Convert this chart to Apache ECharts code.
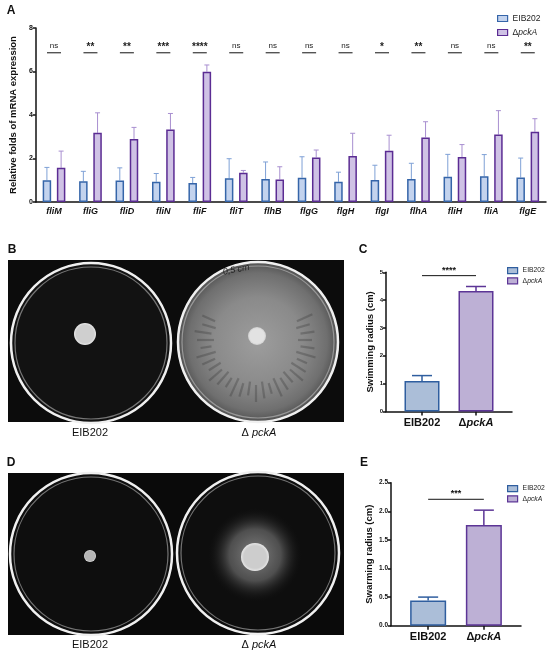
<!DOCTYPE html>
<html>
<head>
<meta charset="utf-8">
<script src="https://cdn.jsdelivr.net/npm/echarts@6/dist/echarts.min.js"></script>
<style>
  html, body { margin: 0; padding: 0; background: #fff; }
  #main { width: 550px; height: 656px; }
</style>
</head>
<body>
<div id="main"></div>
<script>
// panel A: qPCR of flagellar genes
const genes = ['fliM', 'fliG', 'fliD', 'fliN', 'fliF', 'fliT', 'flhB', 'flgG', 'flgH', 'flgI', 'flhA', 'fliH', 'fliA', 'flgE'];
const eibMean = [1.0, 0.95, 0.99, 0.93, 0.87, 1.09, 1.06, 1.12, 0.93, 1.01, 1.06, 1.16, 1.18, 1.13];
const eibUpper = [1.59, 1.41, 1.57, 1.31, 1.13, 1.99, 1.84, 2.08, 1.37, 1.69, 1.78, 2.19, 2.18, 2.02];
const pckMean = [1.57, 3.18, 2.9, 3.33, 5.99, 1.35, 1.04, 2.05, 2.11, 2.36, 2.97, 2.07, 3.1, 3.23];
const pckUpper = [2.34, 4.1, 3.43, 4.07, 6.3, 1.45, 1.62, 2.39, 3.16, 3.07, 3.69, 2.64, 4.2, 3.83];
const geneSig = ['ns', '**', '**', '***', '****', 'ns', 'ns', 'ns', 'ns', '*', '**', 'ns', 'ns', '**'];
const geneTicks = [0, 2, 4, 6, 8];

// panels C and E
const strains = ['EIB202', 'ΔpckA'];
const swimMean = [1.1, 4.33];
const swimUpper = [1.29, 4.49];
const swimSig = '****';
const swarmMean = [0.44, 1.76];
const swarmUpper = [0.5, 2.02];
const swarmSig = '***';

const FONT = 'Liberation Sans, Arial, sans-serif';
const colA = { eib: '#c3d3ee', eibB: '#3565a9', eibE: '#7fa1d6', pck: '#cfc2e5', pckB: '#5b2c93', pckE: '#a88fd0' };
const colC = { eib: '#abbed8', eibB: '#2f5e9f', pck: '#bdb0d5', pckB: '#5c3596' };

// strains sit on a padded category axis so the bars keep their spacing
const padded = ['', '', strains[0], '', '', strains[1], '', ''];
const slot = [2, 5];
function padSeries(vals, k) {
  return padded.map((c, i) => (i === slot[k] ? vals[k] : null));
}

function nameFmt(n) {
  return n === 'ΔpckA' ? '{d|Δ}{i|pckA}' : n;
}

function errA(off, color) {
  return function (params, api) {
    const b = api.coord([api.value(0), api.value(1)]);
    const t = api.coord([api.value(0), api.value(2)]);
    const x = b[0] + off;
    return {
      type: 'group',
      children: [
        { type: 'line', shape: { x1: x, y1: b[1], x2: x, y2: t[1] }, style: { stroke: color, lineWidth: 1 } },
        { type: 'line', shape: { x1: x - 2.5, y1: t[1], x2: x + 2.5, y2: t[1] }, style: { stroke: color, lineWidth: 1 } }
      ]
    };
  };
}
function errC(color) {
  return function (params, api) {
    const b = api.coord([api.value(0), api.value(1)]);
    const t = api.coord([api.value(0), api.value(2)]);
    return {
      type: 'group',
      children: [
        { type: 'line', shape: { x1: b[0], y1: b[1], x2: b[0], y2: t[1] }, style: { stroke: color, lineWidth: 1.5 } },
        { type: 'line', shape: { x1: b[0] - 10, y1: t[1], x2: b[0] + 10, y2: t[1] }, style: { stroke: color, lineWidth: 1.5 } }
      ]
    };
  };
}
function sigBracket(text, level) {
  return function (params, api) {
    const a = api.coord([slot[0], level]);
    const b = api.coord([slot[1], level]);
    return {
      type: 'group',
      children: [
        { type: 'line', shape: { x1: a[0], y1: a[1], x2: b[0], y2: b[1] }, style: { stroke: '#111', lineWidth: 1 } },
        { type: 'text', x: (a[0] + b[0]) / 2, y: a[1] - 1, style: { text: text, fill: '#111', font: 'bold 9px ' + FONT, align: 'center', verticalAlign: 'bottom' } }
      ]
    };
  };
}

function yAxisStyle(fs) {
  return {
    axisLine: { show: true, lineStyle: { color: '#111', width: 1.5 } },
    axisTick: { show: true, length: 3, lineStyle: { color: '#111', width: 1.5 } },
    axisLabel: { color: '#111', fontSize: fs, fontWeight: 'bold', fontFamily: FONT, margin: 3 },
    splitLine: { show: false },
    nameLocation: 'middle',
    nameTextStyle: { color: '#111', fontSize: 9.5, fontWeight: 'bold', fontFamily: FONT }
  };
}
function strainAxis(grid) {
  return {
    type: 'category', gridIndex: grid, data: padded, boundaryGap: false,
    axisLine: { lineStyle: { color: '#111', width: 1.5 } },
    axisTick: { length: 4, interval: (i, v) => v !== '', lineStyle: { color: '#111', width: 1.5 } },
    axisLabel: {
      interval: (i, v) => v !== '', margin: 6, color: '#111', fontSize: 11, fontWeight: 'bold', fontFamily: FONT,
      formatter: v => (v === 'ΔpckA' ? '{b|Δ}{bi|pckA}' : v),
      rich: {
        b: { fontSize: 11, fontWeight: 'bold', fontFamily: FONT, color: '#111' },
        bi: { fontSize: 11, fontWeight: 'bold', fontStyle: 'italic', fontFamily: FONT, color: '#111' }
      }
    }
  };
}
function legendAt(pos, fs, cols) {
  return {
    orient: 'vertical', left: pos.left, top: pos.top, padding: 0, itemWidth: 10, itemHeight: 6, itemGap: pos.gap,
    icon: 'rect', textStyle: { fontSize: fs, color: '#222', fontFamily: FONT, rich: { d: { fontSize: fs, fontFamily: FONT }, i: { fontSize: fs, fontStyle: 'italic', fontFamily: FONT } } },
    formatter: nameFmt, selectedMode: false,
    data: [
      { name: strains[0], itemStyle: { color: cols.eib, borderColor: cols.eibB, borderWidth: 1.2 } },
      { name: strains[1], itemStyle: { color: cols.pck, borderColor: cols.pckB, borderWidth: 1.2 } }
    ]
  };
}

// ---------- photographs drawn as shapes ----------
function dish(cx, cy, r, fill) {
  return [
    { type: 'circle', shape: { cx: cx, cy: cy, r: r }, style: { fill: fill, stroke: '#f0f0f0', lineWidth: 2.5 } },
    { type: 'circle', shape: { cx: cx, cy: cy, r: r - 4 }, style: { fill: 'none', stroke: 'rgba(200,200,200,0.55)', lineWidth: 1.2 } }
  ];
}
function colony(cx, cy, r, inner, outer) {
  return {
    type: 'circle', shape: { cx: cx, cy: cy, r: r },
    style: { fill: { type: 'radial', x: 0.5, y: 0.5, r: 0.5, colorStops: [{ offset: 0, color: inner }, { offset: 0.8, color: inner }, { offset: 1, color: outer }] } }
  };
}
const photo = [];
photo.push({ type: 'rect', shape: { x: 8, y: 260, width: 336, height: 162 }, style: { fill: '#0c0c0c' } });
photo.push({ type: 'rect', shape: { x: 8, y: 473, width: 336, height: 162 }, style: { fill: '#0a0a0a' } });
// B left
photo.push(...dish(91, 343, 80, '#121212'));
photo.push(colony(85, 334, 11, '#cfcfcf', '#e9e9e9'));
// B right: grey swim halo with radial streaks
photo.push(...dish(258, 342, 80, { type: 'radial', x: 0.5, y: 0.5, r: 0.5, colorStops: [
  { offset: 0, color: '#9d9d9d' }, { offset: 0.55, color: '#8a8a8a' }, { offset: 0.85, color: '#6f6f6f' }, { offset: 1, color: '#4e4e4e' }] }));
for (let k = 0; k < 44; k++) {
  const a = (k / 44) * Math.PI * 2;
  if (Math.sin(a) < -0.45) continue;
  const r1 = 42 + (k % 2) * 3, r2 = 56 + (k % 3) * 3;
  photo.push({ type: 'line', shape: { x1: 256 + r1 * Math.cos(a), y1: 340 + r1 * Math.sin(a), x2: 256 + r2 * Math.cos(a), y2: 340 + r2 * Math.sin(a) },
    style: { stroke: 'rgba(50,50,50,0.3)', lineWidth: 2.2 } });
}
photo.push(colony(257, 336, 9, '#e2e2e2', '#cfcfcf'));
photo.push({ type: 'text', x: 222, y: 268, rotation: 0.2, style: { text: '0,5 cm', font: 'italic 9px ' + FONT, fill: '#222' } });
// D left
photo.push(...dish(91, 554, 81, '#0e0e0e'));
photo.push(colony(90, 556, 6, '#b5b5b5', '#e3e3e3'));
// D right: swarm halo
photo.push(...dish(258, 553, 81, '#0e0e0e'));
photo.push({ type: 'circle', shape: { cx: 255, cy: 555, r: 47 }, style: { fill: { type: 'radial', x: 0.5, y: 0.5, r: 0.5, colorStops: [
  { offset: 0, color: 'rgba(135,135,135,0.95)' }, { offset: 0.55, color: 'rgba(95,95,95,0.8)' }, { offset: 1, color: 'rgba(20,20,20,0)' }] } } });
photo.push(colony(255, 557, 14, '#cdcdcd', '#e6e6e6'));

const texts = [
  ['A', 11, 11], ['B', 12, 250], ['C', 363, 250], ['D', 11, 463], ['E', 364, 463]
].map(t => ({ type: 'text', x: t[1], y: t[2], style: { text: t[0], font: 'bold 12px ' + FONT, fill: '#111', align: 'center', verticalAlign: 'middle' } }));
[433, 645].forEach(y => {
  texts.push({ type: 'text', x: 90, y: y, style: { text: strains[0], font: '11px ' + FONT, fill: '#111', align: 'center', verticalAlign: 'middle' } });
  texts.push({ type: 'text', x: 259, y: y, style: { text: '{d|Δ }{i|pckA}', font: '11px ' + FONT, fill: '#111', align: 'center', verticalAlign: 'middle',
    rich: { d: { fontSize: 11, fontFamily: FONT, fill: '#111' }, i: { fontSize: 11, fontFamily: FONT, fontStyle: 'italic', fill: '#111' } } } });
});

const chart = echarts.init(document.getElementById('main'), null, { renderer: 'canvas' });
chart.setOption({
  animation: false,
  backgroundColor: '#fff',
  textStyle: { fontFamily: FONT },
  graphic: photo.concat(texts),
  legend: [
    legendAt({ left: 497, top: 14, gap: 5 }, 8.5, colA),
    legendAt({ left: 507, top: 267, gap: 3 }, 6.8, colC),
    legendAt({ left: 507, top: 485, gap: 3 }, 6.8, colC)
  ],
  grid: [
    { left: 32, top: 28, width: 514, height: 174 },
    { left: 386, top: 272.3, width: 126, height: 139.2 },
    { left: 391, top: 482.7, width: 130, height: 143 }
  ],
  xAxis: [
    {
      type: 'category', gridIndex: 0, data: genes,
      axisLine: { lineStyle: { color: '#111', width: 1.5 } },
      axisTick: { alignWithLabel: true, length: 3, lineStyle: { color: '#111', width: 1.5 } },
      axisLabel: { color: '#111', fontSize: 9, fontWeight: 'bold', fontStyle: 'italic', fontFamily: FONT, margin: 5 }
    },
    strainAxis(1),
    strainAxis(2)
  ],
  yAxis: [
    Object.assign(yAxisStyle(7), { type: 'value', gridIndex: 0, min: geneTicks[0], max: geneTicks[geneTicks.length - 1], interval: 2, name: 'Relative folds of mRNA expression', nameGap: 14 }),
    Object.assign(yAxisStyle(6), { type: 'value', gridIndex: 1, min: 0, max: 5, interval: 1, name: 'Swimming radius (cm)', nameGap: 11 }),
    Object.assign(yAxisStyle(6.5), { type: 'value', gridIndex: 2, min: 0, max: 2.5, interval: 0.5, name: 'Swarming radius (cm)', nameGap: 17,
      axisLabel: { color: '#111', fontSize: 6.5, fontWeight: 'bold', fontFamily: FONT, margin: 3, formatter: v => v.toFixed(1) } })
  ],
  series: [
    { name: strains[0], type: 'bar', xAxisIndex: 0, yAxisIndex: 0, data: eibMean, barWidth: 8.5, barGap: '67%',
      itemStyle: { color: colA.eib, borderColor: colA.eibB, borderWidth: 1.5 } },
    { name: strains[1], type: 'bar', xAxisIndex: 0, yAxisIndex: 0, data: pckMean, barWidth: 8.5, barGap: '67%',
      itemStyle: { color: colA.pck, borderColor: colA.pckB, borderWidth: 1.5 } },
    { type: 'custom', xAxisIndex: 0, yAxisIndex: 0, renderItem: errA(-7.1, colA.eibE), data: eibMean.map((m, i) => [i, m, eibUpper[i]]), z: 1 },
    { type: 'custom', xAxisIndex: 0, yAxisIndex: 0, renderItem: errA(7.1, colA.pckE), data: pckMean.map((m, i) => [i, m, pckUpper[i]]), z: 1 },
    { type: 'custom', xAxisIndex: 0, yAxisIndex: 0, data: genes.map((g, i) => [i]),
      renderItem: function (params, api) {
        const s = geneSig[params.dataIndex];
        const p = api.coord([api.value(0), 6.86]);
        const ns = s === 'ns';
        return {
          type: 'group',
          children: [
            { type: 'line', shape: { x1: p[0] - 7, y1: p[1], x2: p[0] + 7, y2: p[1] }, style: { stroke: '#111', lineWidth: 1 } },
            { type: 'text', x: p[0], y: p[1] - (ns ? 3 : 0.5), style: { text: s, fill: '#222', font: (ns ? '' : 'bold ') + (ns ? 8 : 10) + 'px ' + FONT, align: 'center', verticalAlign: 'bottom' } }
          ]
        };
      } },

    { name: strains[0], type: 'bar', xAxisIndex: 1, yAxisIndex: 1, data: padSeries(swimMean, 0), barWidth: 35, barGap: '-100%',
      itemStyle: { color: colC.eib, borderColor: colC.eibB, borderWidth: 1.5 } },
    { name: strains[1], type: 'bar', xAxisIndex: 1, yAxisIndex: 1, data: padSeries(swimMean, 1), barWidth: 35, barGap: '-100%',
      itemStyle: { color: colC.pck, borderColor: colC.pckB, borderWidth: 1.5 } },
    { type: 'custom', xAxisIndex: 1, yAxisIndex: 1, renderItem: errC(colC.eibB), data: [[slot[0], swimMean[0], swimUpper[0]]], z: 1 },
    { type: 'custom', xAxisIndex: 1, yAxisIndex: 1, renderItem: errC(colC.pckB), data: [[slot[1], swimMean[1], swimUpper[1]]], z: 1 },
    { type: 'custom', xAxisIndex: 1, yAxisIndex: 1, renderItem: sigBracket(swimSig, 4.88), data: [[0]] },

    { name: strains[0], type: 'bar', xAxisIndex: 2, yAxisIndex: 2, data: padSeries(swarmMean, 0), barWidth: 36, barGap: '-100%',
      itemStyle: { color: colC.eib, borderColor: colC.eibB, borderWidth: 1.5 } },
    { name: strains[1], type: 'bar', xAxisIndex: 2, yAxisIndex: 2, data: padSeries(swarmMean, 1), barWidth: 36, barGap: '-100%',
      itemStyle: { color: colC.pck, borderColor: colC.pckB, borderWidth: 1.5 } },
    { type: 'custom', xAxisIndex: 2, yAxisIndex: 2, renderItem: errC(colC.eibB), data: [[slot[0], swarmMean[0], swarmUpper[0]]], z: 1 },
    { type: 'custom', xAxisIndex: 2, yAxisIndex: 2, renderItem: errC(colC.pckB), data: [[slot[1], swarmMean[1], swarmUpper[1]]], z: 1 },
    { type: 'custom', xAxisIndex: 2, yAxisIndex: 2, renderItem: sigBracket(swarmSig, 2.21), data: [[0]] }
  ]
});
</script>
</body>
</html>
